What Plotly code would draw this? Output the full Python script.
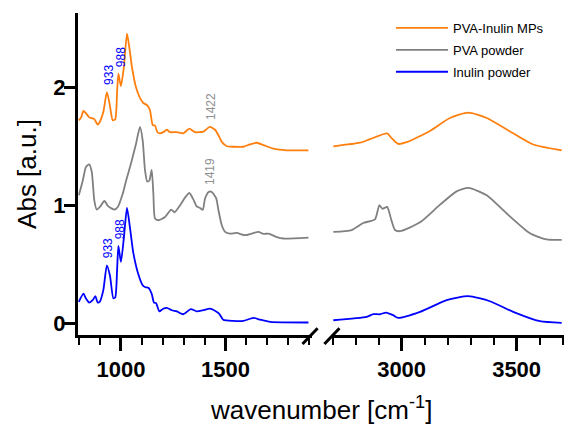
import numpy as np
import plotly.graph_objects as go

# ---------------- data ----------------
# Left panel (fingerprint region)
orange_left_x = [799, 810, 821, 833, 849, 873, 889, 900, 916, 933, 946, 961, 973, 982, 988,
                 1000, 1014, 1029, 1040, 1053, 1072, 1091, 1107, 1126, 1139, 1152, 1163, 1174,
                 1187, 1203, 1219, 1235, 1267, 1298, 1327, 1354, 1394, 1424, 1450, 1470, 1482,
                 1506, 1537, 1585, 1617, 1649, 1681, 1728, 1792, 1896]
orange_left_y = [1.72, 1.745, 1.80, 1.78, 1.745, 1.73, 1.684, 1.71, 1.79, 1.96, 1.86, 1.72, 1.73,
                 1.97, 2.115, 2.01, 2.17, 2.455, 2.34, 2.17, 2.0, 1.91, 1.867, 1.847, 1.805, 1.68,
                 1.675, 1.62, 1.61, 1.62, 1.64, 1.62, 1.62, 1.61, 1.65, 1.62, 1.625, 1.664, 1.64,
                 1.58, 1.537, 1.50, 1.496, 1.496, 1.517, 1.53, 1.51, 1.48, 1.466, 1.466]

gray_left_x = [799, 818, 833, 849, 861, 873, 885, 900, 921, 940, 969, 985, 1009, 1025, 1048,
               1072, 1091, 1104, 1115, 1126, 1136, 1147, 1155, 1163, 1179, 1211, 1240, 1256,
               1283, 1306, 1327, 1346, 1362, 1378, 1391, 1402, 1419, 1434, 1455, 1466, 1482,
               1498, 1521, 1553, 1593, 1625, 1657, 1681, 1705, 1745, 1776, 1896]
gray_left_y = [1.085, 1.21, 1.325, 1.347, 1.28, 1.04, 0.963, 0.986, 1.036, 0.99, 0.963, 0.985,
               1.10, 1.21, 1.353, 1.52, 1.664, 1.55, 1.30, 1.20, 1.21, 1.30, 1.10, 0.887, 0.873,
               0.90, 0.963, 0.94, 1.0, 1.065, 1.104, 1.05, 0.99, 0.977, 0.96, 1.057, 1.113,
               1.113, 1.06, 0.958, 0.83, 0.774, 0.76, 0.765, 0.746, 0.76, 0.774, 0.757, 0.76,
               0.73, 0.718, 0.726]

blue_left_x = [799, 821, 833, 849, 865, 878, 889, 900, 916, 933, 948, 964, 973, 982, 988,
               1000, 1014, 1029, 1044, 1059, 1080, 1104, 1117, 1131, 1147, 1158, 1168, 1184,
               1200, 1219, 1243, 1267, 1298, 1334, 1362, 1394, 1426, 1455, 1470, 1489, 1537,
               1585, 1633, 1665, 1713, 1896]
blue_left_y = [0.18, 0.25, 0.21, 0.175, 0.195, 0.23, 0.175, 0.185, 0.28, 0.49, 0.40, 0.21, 0.22,
               0.46, 0.655, 0.52, 0.72, 0.977, 0.80, 0.60, 0.435, 0.322, 0.305, 0.30, 0.25,
               0.175, 0.17, 0.10, 0.12, 0.13, 0.11, 0.10, 0.076, 0.12, 0.10, 0.11, 0.124, 0.10,
               0.08, 0.03, 0.02, 0.02, 0.045, 0.03, 0.011, 0.006]

# Right panel (high wavenumber region)
orange_right_x = [2703, 2819, 2862, 2937, 2956, 2985, 3022, 3123, 3210, 3290, 3370, 3485, 3572, 3696]
orange_right_y = [1.50, 1.53, 1.56, 1.61, 1.57, 1.52, 1.535, 1.63, 1.74, 1.785, 1.74, 1.61, 1.515, 1.466]

gray_right_x = [2703, 2783, 2833, 2884, 2903, 2917, 2937, 2956, 2971, 2993, 3080, 3167, 3239,
                3290, 3370, 3457, 3558, 3630, 3696]
gray_right_y = [0.774, 0.79, 0.85, 0.88, 1.0, 0.97, 0.986, 0.87, 0.79, 0.78, 0.855, 1.005, 1.118,
                1.147, 1.085, 0.93, 0.763, 0.71, 0.706]

blue_right_x = [2703, 2848, 2877, 2906, 2932, 2963, 2985, 3080, 3196, 3290, 3384, 3485, 3601, 3696]
blue_right_y = [0.025, 0.054, 0.076, 0.076, 0.09, 0.068, 0.045, 0.096, 0.195, 0.229, 0.186, 0.096, 0.017, 0.003]

series_names = ["PVA-Inulin MPs", "PVA powder", "Inulin powder"]
series_colors = ["#FF7F0E", "#808080", "#0000FF"]

# peak labels: (wavenumber, text, series index, colour)
peak_wn = [933, 988, 1422, 933, 988, 1419]
peak_text = ["933", "988", "1422", "933", "988", "1419"]
peak_series = [0, 0, 0, 2, 2, 1]
peak_colors = ["#0000FF", "#0000FF", "#909090", "#0000FF", "#0000FF", "#909090"]

x_title = "wavenumber [cm<sup>-1</sup>]"
y_title = "Abs [a.u.]"

# ---------------- figure ----------------
FONT = "Arial, Liberation Sans, sans-serif"
left = [(orange_left_x, orange_left_y), (gray_left_x, gray_left_y), (blue_left_x, blue_left_y)]
right = [(orange_right_x, orange_right_y), (gray_right_x, gray_right_y), (blue_right_x, blue_right_y)]

fig = go.Figure()
for i, name in enumerate(series_names):
    fig.add_trace(go.Scatter(x=left[i][0], y=left[i][1], mode="lines", name=name,
                             legendgroup=name, showlegend=True,
                             line=dict(color=series_colors[i], width=1.8, shape="spline", smoothing=0.6),
                             xaxis="x", yaxis="y"))
    fig.add_trace(go.Scatter(x=right[i][0], y=right[i][1], mode="lines", name=name,
                             legendgroup=name, showlegend=False,
                             line=dict(color=series_colors[i], width=1.8, shape="spline", smoothing=0.6),
                             xaxis="x2", yaxis="y"))

for wn, txt, si, col in zip(peak_wn, peak_text, peak_series, peak_colors):
    yv = float(np.interp(wn, left[si][0], left[si][1]))
    fig.add_annotation(x=wn, y=yv, xref="x", yref="y", text=txt, showarrow=False,
                       textangle=-90, xanchor="center", yanchor="bottom",
                       yshift=5, xshift=2,
                       font=dict(family=FONT, size=12, color=col))

fig.add_annotation(x=0.5, y=-0.227, xref="paper", yref="paper", text=x_title,
                   showarrow=False, xanchor="center", yanchor="middle",
                   font=dict(family=FONT, size=26, color="black"))

# axis break marks
for x0 in [0.462, 0.507]:
    fig.add_shape(type="line", xref="paper", yref="paper", x0=x0, x1=x0 + 0.031,
                  y0=-0.028, y1=0.021, line=dict(color="black", width=3))

axis_common = dict(showline=True, linewidth=3, linecolor="black", showgrid=False,
                   zeroline=False, ticks="outside", ticklen=13, tickwidth=2.5,
                   tickcolor="black", dtick=500, tick0=0, automargin=False,
                   tickfont=dict(family=FONT, size=22, color="black", weight="bold"),
                   minor=dict(ticks="outside", dtick=100, ticklen=7, tickwidth=2,
                              tickcolor="black", showgrid=False))

fig.update_layout(
    width=565, height=424,
    margin=dict(l=78, r=1, t=13, b=89, autoexpand=False),
    paper_bgcolor="white", plot_bgcolor="white",
    font=dict(family=FONT, color="black"),
    xaxis=dict(domain=[0, 0.4815], range=[795, 1913], anchor="y", **axis_common),
    xaxis2=dict(domain=[0.5206, 1], range=[2693, 3706], anchor="y", **axis_common),
    yaxis=dict(range=[-0.1, 2.63], showline=True, linewidth=3, linecolor="black",
               showgrid=False, zeroline=False, ticks="outside", ticklen=11, tickwidth=2.5,
               tickcolor="black", dtick=1, tick0=0, automargin=False, ticklabelstandoff=-6,
               tickfont=dict(family=FONT, size=22, color="black", weight="bold"),
               title=dict(text=y_title, font=dict(family=FONT, size=26, color="black"), standoff=10)),
    legend=dict(x=0.644, y=1.0, xanchor="left", yanchor="top", itemwidth=52,
                tracegroupgap=2, traceorder="grouped",
                font=dict(family=FONT, size=13, color="black"), bgcolor="rgba(0,0,0,0)"),
    showlegend=True,
)

fig.write_html("out.html", config={"displayModeBar": False},
               post_script="document.body.style.margin='0';document.body.style.padding='0';")
